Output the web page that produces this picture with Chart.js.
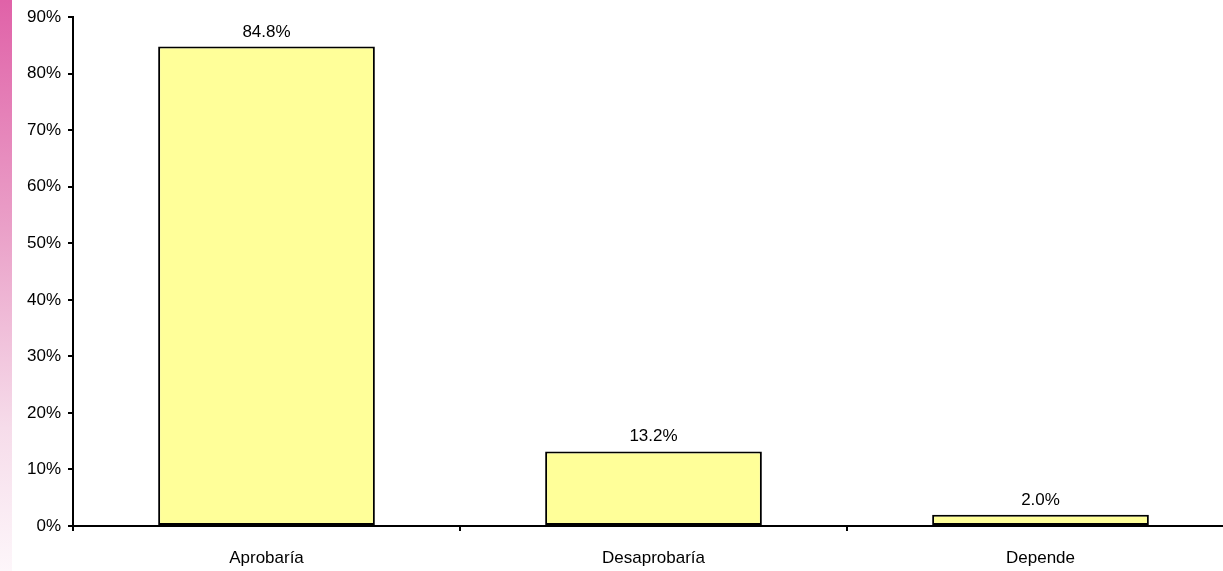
<!DOCTYPE html>
<html>
<head>
<meta charset="utf-8">
<script src="https://cdn.jsdelivr.net/npm/chart.js@4.4.0/dist/chart.umd.min.js"></script>
<style>
  html, body { margin: 0; padding: 0; background: #fff; }
  #wrap { position: relative; width: 1223px; height: 571px; overflow: hidden; }
  #strip { position: absolute; left: 0; top: 0; width: 12px; height: 571px;
           background: linear-gradient(to bottom, #e062a8 0%, #eaa0c8 40%, #f6dcea 75%, #fdf6fa 100%); }
  #chart { position: absolute; left: 0; top: 0; }
</style>
</head>
<body>
<div id="wrap">
  <div id="strip"></div>
  <!-- canvas is wider than the frame: the original plot runs past the right edge -->
  <canvas id="chart" width="1234" height="571"></canvas>
</div>
<script>
Chart.defaults.font.family = '"Liberation Sans", Arial, sans-serif'
Chart.defaults.color = '#000'

const categories = ["Aprobaría", "Desaprobaría", "Depende"];
const shares = [84.8, 13.2, 2.0];
const yTicks = [0, 10, 20, 30, 40, 50, 60, 70, 80, 90];

// draws the "84.8%" labels above each bar
const valueLabels = {
  id: 'valueLabels',
  afterDatasetsDraw(chart) {
    const ctx = chart.ctx;
    const meta = chart.getDatasetMeta(0);
    ctx.save();
    ctx.font = '17px "Liberation Sans", Arial, sans-serif';
    ctx.fillStyle = '#000';
    ctx.textAlign = 'center';
    ctx.textBaseline = 'alphabetic';
    meta.data.forEach((bar, i) => {
      ctx.fillText(shares[i].toFixed(1) + '%', bar.x, bar.y - 10);
    });
    ctx.restore();
  }
};

const ctx = document.getElementById('chart').getContext('2d');
new Chart(ctx, {
  type: 'bar',
  data: {
    labels: categories,
    datasets: [{
      data: shares,
      backgroundColor: '#ffff99',
      borderColor: '#000',
      borderWidth: 2,
      borderSkipped: false,
      categoryPercentage: 1,
      barPercentage: 0.56
    }]
  },
  options: {
    responsive: false,
    animation: false,
    layout: { padding: { top: 16, right: 0, left: 0, bottom: 0 } },
    plugins: { legend: { display: false }, tooltip: { enabled: false } },
    scales: {
      x: {
        offset: true,
        grid: { offset: true, drawOnChartArea: false, tickLength: 5, color: '#000', lineWidth: 2 },
        border: { color: '#000', width: 2 },
        ticks: { font: { size: 17 }, padding: 17 },
        afterFit: (scale) => { scale.height = 45; }
      },
      y: {
        min: 0,
        max: 90,
        afterBuildTicks: (scale) => { scale.ticks = yTicks.map(v => ({ value: v })); },
        grid: { drawOnChartArea: false, tickLength: 5, color: '#000', lineWidth: 2 },
        border: { color: '#000', width: 2 },
        ticks: { font: { size: 17 }, padding: 7, callback: (v) => v + '%' },
        afterFit: (scale) => { scale.width = 73; }
      }
    }
  },
  plugins: [valueLabels]
});
</script>
</body>
</html>
